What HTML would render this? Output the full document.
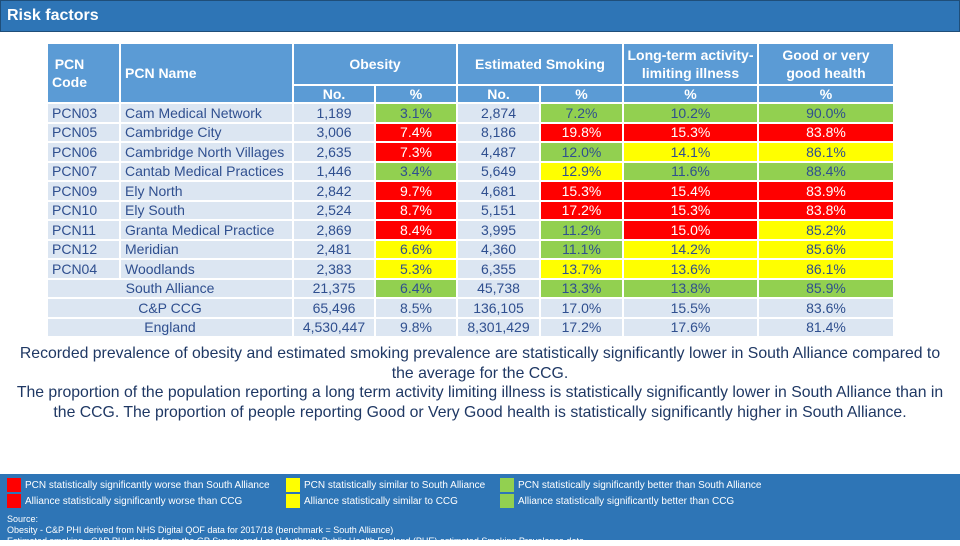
<!DOCTYPE html>
<html><head><meta charset="utf-8">
<style>
body{margin:0;width:960px;height:540px;background:#fff;position:relative;overflow:hidden;font-family:"Liberation Sans",Arial,sans-serif}
.title{position:absolute;left:0;top:0;width:960px;height:32px;background:#2e75b6;color:#fff;font-weight:bold;font-size:16px;line-height:30px;padding-left:6px;box-sizing:border-box;border:1px solid #1f4e79}
.c{position:absolute;box-sizing:border-box;border-right:2px solid #fff;border-bottom:2px solid #fff;display:flex;align-items:center;font-size:14px;color:#2f4f8f;white-space:nowrap;overflow:hidden}
.h{background:#5b9bd5;color:#fff;font-weight:bold;justify-content:center;text-align:center;line-height:18px}
.desc{position:absolute;left:0;top:344px;width:960px;text-align:center;font-size:15.8px;color:#1f3864;line-height:19.5px;white-space:nowrap}
.leg{position:absolute;left:0;top:474px;width:960px;height:66px;background:#2e75b6}
.li{position:absolute;color:#fff;font-size:10px;display:flex;align-items:center}
.sw{width:14px;height:14px;margin-right:4px}
.src{position:absolute;left:7px;color:#fff;font-size:9px}
</style></head><body>
<div class="title">Risk factors</div>
<div id="tbl"></div>
<div class="desc">Recorded prevalence of obesity and estimated smoking prevalence are statistically significantly lower in South Alliance compared to<br>the average for the CCG.<br>The proportion of the population reporting a long term activity limiting illness is statistically significantly lower in South Alliance than in<br>the CCG. The proportion of people reporting Good or Very Good health is statistically significantly higher in South Alliance.</div>
<div class="leg">
<div class="li" style="left:7px;top:4px"><div class="sw" style="background:#f00"></div>PCN statistically significantly worse than South Alliance</div>
<div class="li" style="left:286px;top:4px"><div class="sw" style="background:#ff0"></div>PCN statistically similar to South Alliance</div>
<div class="li" style="left:500px;top:4px"><div class="sw" style="background:#92d050"></div>PCN statistically significantly better than South Alliance</div>
<div class="li" style="left:7px;top:20px"><div class="sw" style="background:#f00"></div>Alliance statistically significantly worse than CCG</div>
<div class="li" style="left:286px;top:20px"><div class="sw" style="background:#ff0"></div>Alliance statistically similar to CCG</div>
<div class="li" style="left:500px;top:20px"><div class="sw" style="background:#92d050"></div>Alliance statistically significantly better than CCG</div>
<div class="src" style="top:40px">Source:</div>
<div class="src" style="top:51px">Obesity - C&amp;P PHI derived from NHS Digital QOF data for 2017/18 (benchmark = South Alliance)</div>
<div class="src" style="top:62px">Estimated smoking - C&amp;P PHI derived from the GP Survey and Local Authority Public Health England (PHE) estimated Smoking Prevalence data</div>
</div>
<script>
const codes=["PCN03","PCN05","PCN06","PCN07","PCN09","PCN10","PCN11","PCN12","PCN04","","",""];
const names=["Cam Medical Network","Cambridge City","Cambridge North Villages","Cantab Medical Practices","Ely North","Ely South","Granta Medical Practice","Meridian","Woodlands","South Alliance","C&P CCG","England"];
const obNo=["1,189","3,006","2,635","1,446","2,842","2,524","2,869","2,481","2,383","21,375","65,496","4,530,447"];
const obPct=["3.1%","7.4%","7.3%","3.4%","9.7%","8.7%","8.4%","6.6%","5.3%","6.4%","8.5%","9.8%"];
const obCol="grrgrrryygnn";
const smNo=["2,874","8,186","4,487","5,649","4,681","5,151","3,995","4,360","6,355","45,738","136,105","8,301,429"];
const smPct=["7.2%","19.8%","12.0%","12.9%","15.3%","17.2%","11.2%","11.1%","13.7%","13.3%","17.0%","17.2%"];
const smCol="grgyrrggygnn";
const ltiPct=["10.2%","15.3%","14.1%","11.6%","15.4%","15.3%","15.0%","14.2%","13.6%","13.8%","15.5%","17.6%"];
const ltiCol="grygrrryygnn";
const ghPct=["90.0%","83.8%","86.1%","88.4%","83.9%","83.8%","85.2%","85.6%","86.1%","85.9%","83.6%","81.4%"];
const ghCol="grygrryyygnn";
const colX=[48,121,294,376,458,541,624,759,895];
const BG={g:"#92d050",r:"#ff0000",y:"#ffff00",n:"#dce6f2"};
const tbl=document.getElementById('tbl');
function cell(x,y,w,h,txt,cls,bg,align,name){
 const d=document.createElement('div');d.className='c '+(cls||'');
 d.style.cssText+=`left:${x}px;top:${y}px;width:${w}px;height:${h}px;`+(bg?`background:${bg};`:'')+(align?`justify-content:${align};`:'justify-content:flex-start;padding-left:4px;');
 d.innerHTML=txt;
 
 
 if(bg===BG.r)d.style.color='#fff';
 tbl.appendChild(d);return d;}
const W=i=>colX[i+1]-colX[i];
cell(colX[0],44,W(0),60,'PCN<br>Code','h',null,null,'header-pcn-code').style.justifyContent='flex-start';
cell(colX[1],44,W(1),60,'PCN Name','h',null,null,'header-pcn-name').style.justifyContent='flex-start';
cell(colX[2],44,W(2)+W(3),42,'Obesity','h',null,'center','header-obesity');
cell(colX[4],44,W(4)+W(5),42,'Estimated Smoking','h',null,'center','header-smoking');
cell(colX[6],44,W(6),42,'Long-term activity-<br>limiting illness','h',null,'center','header-lti');
cell(colX[7],44,W(7),42,'Good or very<br>good health','h',null,'center','header-good-health');
['No.','%','No.','%','%','%'].forEach((t,i)=>cell(colX[i+2],86,W(i+2),18,t,'h',null,'center','subheader-'+(i+1)));
const rowH=19.5,y0=104;
const cc=s=>BG[s]||BG.n;
names.forEach((n,i)=>{
 const y=y0+i*rowH;
 if(i<9){cell(colX[0],y,W(0),rowH,codes[i],'',BG.n,null,'row-code');
  cell(colX[1],y,W(1),rowH,n,'',BG.n,null,'row-name');}
 else cell(colX[0],y,W(0)+W(1),rowH,n.replace('&','&amp;'),'',BG.n,'center','row-name');
 cell(colX[2],y,W(2),rowH,obNo[i],'',BG.n,'center','obesity-no');
 cell(colX[3],y,W(3),rowH,obPct[i],'',cc(obCol[i]),'center','obesity-pct');
 cell(colX[4],y,W(4),rowH,smNo[i],'',BG.n,'center','smoking-no');
 cell(colX[5],y,W(5),rowH,smPct[i],'',cc(smCol[i]),'center','smoking-pct');
 cell(colX[6],y,W(6),rowH,ltiPct[i],'',cc(ltiCol[i]),'center','lti-pct');
 cell(colX[7],y,W(7),rowH,ghPct[i],'',cc(ghCol[i]),'center','good-health-pct');
});
</script>
</body></html>
